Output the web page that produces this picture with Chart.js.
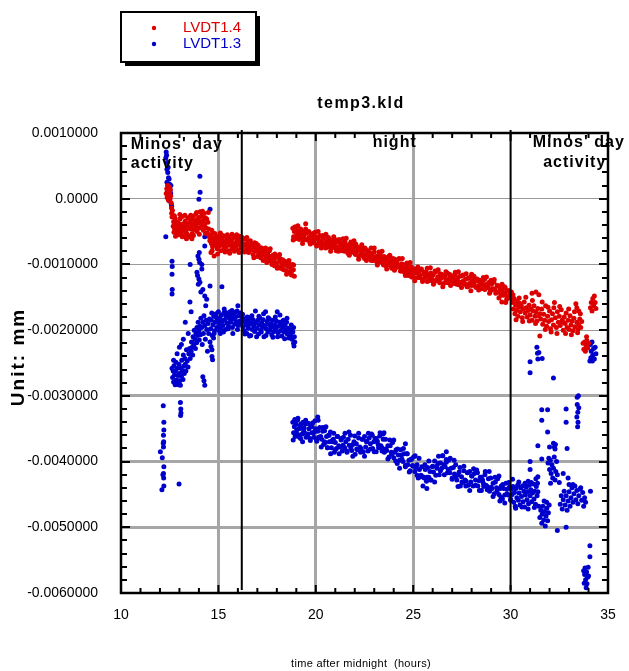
<!DOCTYPE html>
<html>
<head>
<meta charset="utf-8">
<title>temp3.kld</title>
<script src="https://cdn.jsdelivr.net/npm/chart.js@4.4.1/dist/chart.umd.min.js"></script>
<style>
    html, body { margin: 0; padding: 0; background: #fff; }
    #wrap { width: 629px; height: 671px; }
</style>
</head>
<body>
<div id="wrap"><canvas id="chart" width="629" height="671"></canvas></div>
<script>
// LVDT1.4 (red) readings, [hours, mm]
const red1 = [[12.32,.00008],[12.35,.00015],[12.37,.00002],[12.4,.0002],[12.41,.0001],[12.43,-.00002],[12.45,.00012],[12.46,.00005],[12.48,.00018],[12.5,.00009],[12.51,-.00001],[12.53,.00014],[12.55,.00004],[12.57,-.00006],[12.59,-.00014],[12.6,-.00022],[12.62,-.00028],[12.64,-.00018]];
const red2 = [[12.68,-.00042],[12.7,-.00035],[12.72,-.00051],[12.75,-.00046],[12.78,-.0003],[12.8,-.00057],[12.83,-.0004],[12.86,-.00049],[12.9,-.00036],[12.92,-.00044],[12.95,-.00055],[12.98,-.00038],[13.0,-.00047],[13.03,-.00031],[13.06,-.00052],[13.1,-.00041],[13.12,-.00045],[13.15,-.00027],[13.18,-.00049],[13.2,-.00038],[13.24,-.00056],[13.27,-.00043],[13.3,-.00034],[13.33,-.00047],[13.36,-.00052],[13.4,-.00039],[13.43,-.00029],[13.46,-.00044],[13.5,-.00058],[13.53,-.00036],[13.56,-.00046],[13.6,-.00032],[13.63,-.00041],[13.66,-.00053],[13.7,-.00027],[13.73,-.00038],[13.76,-.00047],[13.8,-.00033],[13.83,-.00024],[13.86,-.00042],[13.9,-.0005],[13.93,-.00031],[13.96,-.00037],[14.0,-.00045],[14.03,-.00028],[14.06,-.0002],[14.1,-.00035],[14.13,-.00042],[14.16,-.00026],[14.2,-.00033],[14.23,-.00048],[14.26,-.00022],[14.3,-.00038],[14.33,-.00029],[14.36,-.00044],[14.4,-.00031],[14.43,-.00052],[14.46,-.00036],[14.5,-.00046],[14.53,-.00058],[14.56,-.00064]];
const red2b = [[12.74,-.00026],[12.88,-.00053],[13.02,-.00024],[13.14,-.00058],[13.28,-.00025],[13.36,-.00061],[13.42,-.00055],[13.58,-.00025],[13.64,-.00061],[13.72,-.00056],[13.88,-.00021],[14.02,-.00054],[14.18,-.00019],[14.34,-.00053],[14.48,-.00021]];
const red3 = [[14.6,-.00055],[14.62,-.00082],[14.64,-.00068],[14.66,-.00048],[14.67,-.0006],[14.7,-.00073],[14.72,-.00052],[14.75,-.00066],[14.78,-.00087],[14.8,-.00061],[14.84,-.00071],[14.87,-.00057],[14.9,-.00069],[14.94,-.00076],[14.97,-.00063],[15.0,-.00058],[15.04,-.00072],[15.08,-.00066],[15.1,-.00052],[15.12,-.00079],[15.15,-.0006],[15.2,-.0007],[15.24,-.00064],[15.28,-.00075],[15.32,-.00057],[15.36,-.00068],[15.4,-.00073],[15.44,-.00062],[15.48,-.00079],[15.52,-.00066],[15.56,-.00059],[15.6,-.00071],[15.64,-.00065],[15.68,-.00077],[15.72,-.00061],[15.76,-.00069],[15.8,-.00074],[15.84,-.00058],[15.88,-.00067],[15.92,-.00072],[15.96,-.00062],[16.0,-.00078],[16.04,-.00066],[16.08,-.00057],[16.12,-.0007],[16.16,-.00075]];
const red3b = [[14.68,-.00079],[14.82,-.00053],[14.96,-.00084],[15.1,-.00068],[15.22,-.00056],[15.34,-.00081],[15.46,-.00055],[15.58,-.00083],[15.7,-.00054],[15.82,-.0008],[15.94,-.00055],[16.06,-.00082],[16.16,-.0006]];
const red4 = [[16.2,-.00063],[16.24,-.00074],[16.28,-.00068],[16.33,-.0008],[16.37,-.00061],[16.42,-.00071],[16.46,-.00077],[16.5,-.00066],[16.55,-.00082],[16.6,-.00072],[16.64,-.00064],[16.68,-.00078],[16.73,-.0007],[16.78,-.00085],[16.82,-.00074],[16.86,-.00067],[16.9,-.0008],[16.95,-.00076],[17.0,-.00088],[17.04,-.00071],[17.08,-.00083],[17.12,-.00078],[17.17,-.0009],[17.22,-.00075],[17.26,-.00086],[17.3,-.00081],[17.35,-.00093],[17.4,-.0008],[17.44,-.00087],[17.48,-.00097],[17.53,-.00084],[17.58,-.00091],[17.62,-.00079],[17.66,-.00095],[17.7,-.00088],[17.75,-.001],[17.8,-.00086],[17.84,-.00094],[17.88,-.00102],[17.93,-.0009],[17.98,-.00098],[18.02,-.00087],[18.07,-.00104],[18.12,-.00095],[18.16,-.00091],[18.2,-.00106],[18.25,-.00099],[18.3,-.00093],[18.35,-.00108],[18.4,-.00101],[18.45,-.00096],[18.5,-.0011],[18.55,-.00103],[18.6,-.00098],[18.65,-.00112],[18.7,-.00105],[18.75,-.00116],[18.8,-.001],[18.85,-.00108],[18.9,-.00118]];
const red4b = [[16.22,-.00059],[16.34,-.00081],[16.46,-.00059],[16.58,-.00077],[16.7,-.0007],[16.82,-.0009],[16.94,-.00068],[17.06,-.00086],[17.18,-.00075],[17.3,-.00094],[17.42,-.00075],[17.54,-.00094],[17.66,-.00076],[17.78,-.00094],[17.9,-.00084],[18.02,-.00106],[18.14,-.00085],[18.26,-.00106],[18.38,-.00095],[18.5,-.00115],[18.62,-.00094],[18.74,-.00112],[18.86,-.00101]];
const red5 = [[18.82,-.00045],[18.86,-.00058],[18.9,-.0005],[18.94,-.00061],[18.98,-.00043],[19.02,-.00056],[19.06,-.00049],[19.1,-.0006],[19.14,-.00052],[19.18,-.00058],[19.22,-.00046],[19.26,-.00056],[19.3,-.00049],[19.34,-.00063],[19.38,-.00053],[19.42,-.0006],[19.48,-.00038],[19.5,-.00053],[19.55,-.00062],[19.6,-.00051],[19.65,-.00059],[19.7,-.00067],[19.75,-.00055],[19.8,-.00063],[19.85,-.00053],[19.9,-.00067],[19.95,-.0006],
    [20.0,-.00058],[20.05,-.00072],[20.1,-.00061],[20.15,-.00067],[20.2,-.00056],[20.25,-.00065],[20.3,-.00071],[20.35,-.00061],[20.4,-.00068],[20.45,-.00059],[20.5,-.00075],[20.55,-.00065],[20.6,-.00071],[20.65,-.00059],[20.7,-.00069],[20.75,-.00063],[20.8,-.00075],[20.85,-.00068],[20.9,-.00062],[20.95,-.00072],
    [21.0,-.00067],[21.05,-.00079],[21.1,-.00065],[21.15,-.00073],[21.2,-.00062],[21.25,-.00076],[21.3,-.0007],[21.35,-.00079],[21.4,-.00068],[21.45,-.00074],[21.5,-.00066],[21.55,-.00078],[21.6,-.00072],[21.65,-.00083],[21.7,-.0007],[21.75,-.00076],[21.8,-.00082],[21.85,-.0007],[21.9,-.00079],[21.95,-.00074],
    [22.0,-.00083],[22.05,-.00069],[22.1,-.0008],[22.15,-.00074],[22.2,-.00087],[22.25,-.00078],[22.3,-.00085],[22.35,-.00073],[22.4,-.00084],[22.45,-.00078],[22.5,-.00091],[22.55,-.00077],[22.6,-.00084],[22.65,-.00089],[22.7,-.00079],[22.75,-.00089],[22.8,-.00084],[22.85,-.00094],[22.9,-.00083],[22.95,-.00089],
    [23.0,-.00081],[23.05,-.00094],[23.1,-.00088],[23.15,-.00098],[23.2,-.00087],[23.25,-.00093],[23.3,-.00085],[23.35,-.00096],[23.4,-.0009],[23.45,-.00099],[23.5,-.00088],[23.55,-.00094],[23.6,-.00102],[23.65,-.00091],[23.7,-.00098],[23.75,-.00088],[23.8,-.00101],[23.85,-.00095],[23.9,-.00106],[23.95,-.00094],
    [24.0,-.001],[24.05,-.00092],[24.1,-.00105],[24.15,-.00097],[24.2,-.00104],[24.25,-.00092],[24.3,-.00103],[24.35,-.0011],[24.4,-.00099],[24.45,-.00106],[24.5,-.001],[24.55,-.00112],[24.6,-.00105],[24.65,-.0011],[24.7,-.001],[24.75,-.00117],[24.8,-.00106],[24.85,-.00111],[24.9,-.00104],[24.95,-.00115],
    [25.0,-.0011],[25.06,-.0012],[25.12,-.00107],[25.18,-.00113],[25.24,-.0012],[25.3,-.0011],[25.36,-.00117],[25.42,-.00107],[25.48,-.00123],[25.54,-.00114],[25.6,-.0012],[25.66,-.00111],[25.72,-.00126],[25.78,-.00116],[25.84,-.0012],[25.9,-.00113],[25.96,-.00125],
    [26.02,-.00116],[26.08,-.00127],[26.14,-.00112],[26.2,-.00123],[26.26,-.00119],[26.32,-.00125],[26.38,-.00114],[26.44,-.00121],[26.5,-.00116],[26.56,-.00129],[26.62,-.00118],[26.68,-.00125],[26.74,-.00113],[26.8,-.00127],[26.86,-.00121],[26.92,-.00116],[26.98,-.00125],
    [27.04,-.00119],[27.1,-.00129],[27.16,-.00116],[27.22,-.00125],[27.28,-.00121],[27.34,-.00131],[27.4,-.00118],[27.46,-.00128],[27.52,-.00117],[27.58,-.00125],[27.64,-.0013],[27.7,-.00122],[27.76,-.00134],[27.82,-.00121],[27.88,-.00129],[27.94,-.00119],
    [28.0,-.00132],[28.0,-.00115],[28.06,-.00126],[28.12,-.00129],[28.18,-.00122],[28.24,-.00135],[28.3,-.00125],[28.36,-.00132],[28.42,-.00124],[28.48,-.00137],[28.54,-.00127],[28.6,-.00131],[28.66,-.00123],[28.72,-.00136],[28.78,-.0013],[28.84,-.00135],[28.9,-.00127],[28.96,-.00141],
    [29.02,-.0013],[29.08,-.00137],[29.14,-.00127],[29.2,-.00137],[29.26,-.00142],[29.32,-.00133],[29.38,-.00142],[29.44,-.00133],[29.5,-.00147],[29.55,-.00157],[29.56,-.00138],[29.62,-.00143],[29.68,-.00134],[29.74,-.00146],[29.75,-.00158],[29.8,-.0014],[29.86,-.00151],[29.92,-.0014],[29.98,-.00149],[30.04,-.00142],[30.08,-.00153]];
const red5b = [[18.84,-.00063],[18.92,-.00043],[19.0,-.00057],[19.08,-.00041],[19.16,-.00062],[19.24,-.00049],[19.32,-.00068],[19.4,-.00053],[19.48,-.00046],[19.56,-.00063],[19.64,-.0005],[19.72,-.00069],[19.8,-.00056],[19.88,-.00062],[19.96,-.00051],
    [20.04,-.0007],[20.12,-.0005],[20.2,-.00067],[20.28,-.00075],[20.36,-.00056],[20.44,-.00069],[20.52,-.00054],[20.6,-.00074],[20.68,-.00062],[20.76,-.0008],[20.84,-.00066],[20.92,-.00058],
    [21.0,-.00075],[21.08,-.00063],[21.16,-.0008],[21.24,-.00067],[21.32,-.00072],[21.4,-.00061],[21.48,-.0008],[21.56,-.0006],[21.64,-.00077],[21.72,-.00086],[21.8,-.00066],[21.88,-.0008],[21.96,-.00064],
    [22.04,-.00085],[22.12,-.00073],[22.2,-.00092],[22.28,-.00078],[22.36,-.0007],[22.44,-.00088],[22.52,-.00075],[22.6,-.00094],[22.68,-.00081],[22.76,-.00087],[22.84,-.00075],[22.92,-.00094],
    [23.0,-.00075],[23.08,-.00092],[23.16,-.00101],[23.24,-.00081],[23.32,-.00095],[23.4,-.0008],[23.48,-.00101],[23.56,-.00089],[23.64,-.00107],[23.72,-.00093],[23.8,-.00086],[23.88,-.00103],[23.96,-.00091],
    [24.04,-.00109],[24.12,-.00096],[24.2,-.00101],[24.28,-.00091],[24.36,-.0011],[24.44,-.00091],[24.52,-.00108],[24.6,-.00117],[24.68,-.00098],[24.76,-.00112],[24.84,-.00097],[24.92,-.00119],
    [25.0,-.00107],[25.08,-.00125],[25.16,-.00111],[25.24,-.00104],[25.32,-.0012],[25.4,-.00108],[25.48,-.00126],[25.56,-.00112],[25.64,-.00118],[25.72,-.00106],[25.8,-.00125],[25.88,-.00105],[25.96,-.00122],
    [26.04,-.0013],[26.12,-.0011],[26.2,-.00124],[26.28,-.00108],[26.36,-.00128],[26.44,-.00115],[26.52,-.00134],[26.6,-.00119],[26.68,-.00111],[26.76,-.00128],[26.84,-.00115],[26.92,-.00132],
    [27.0,-.00118],[27.08,-.00123],[27.16,-.00112],[27.24,-.0013],[27.32,-.00111],[27.4,-.00127],[27.48,-.00135],[27.56,-.00116],[27.64,-.00129],[27.72,-.00114],[27.8,-.00134],[27.88,-.00121],[27.96,-.0014],
    [28.04,-.00125],[28.12,-.00118],[28.2,-.00134],[28.28,-.00122],[28.36,-.00139],[28.44,-.00126],[28.52,-.00131],[28.6,-.0012],[28.68,-.00138],[28.76,-.00119],[28.84,-.00135],[28.92,-.00144],
    [29.0,-.00124],[29.08,-.00138],[29.16,-.00123],[29.24,-.00144],[29.32,-.00132],[29.4,-.00151],[29.48,-.00137],[29.56,-.0013],[29.64,-.00147],[29.72,-.00135],[29.8,-.00153],[29.88,-.0014],[29.96,-.00146]];
const red6 = [[30.1,-.00158],[30.14,-.00168],[30.18,-.00152],[30.22,-.00175],[30.26,-.00162],[30.3,-.0017],[30.34,-.00156],[30.38,-.00179],[30.42,-.00165],[30.46,-.00159],[30.5,-.00172],[30.55,-.00163],[30.6,-.00181],[30.65,-.00168],[30.7,-.00157],[30.75,-.00174],[30.8,-.00166],[30.85,-.0018],[30.9,-.0017],[30.95,-.00162],[31.0,-.00177],[31.05,-.00168],[31.1,-.00185],[31.1,-.00144],[31.15,-.00171],[31.2,-.00163],[31.25,-.00179],[31.3,-.00142],[31.3,-.00172],[31.35,-.00186],[31.4,-.00167],[31.45,-.00146],[31.45,-.00178],[31.5,-.00209],[31.5,-.00175],
    [31.55,-.00183],[31.6,-.00168],[31.65,-.00191],[31.7,-.00176],[31.75,-.00185],[31.8,-.00163],[31.85,-.00194],[31.9,-.00179],[31.95,-.00187],[32.0,-.00171],[32.05,-.00198],[32.1,-.00184],[32.15,-.00175],[32.2,-.00192],[32.25,-.00158],[32.3,-.00181],[32.35,-.00196],[32.4,-.00172],[32.45,-.00188],[32.5,-.00179],[32.55,-.00193],[32.6,-.00169],[32.65,-.00185],[32.7,-.002],[32.75,-.0018],[32.8,-.0019],[32.85,-.00174],[32.9,-.00196],[32.95,-.00185],[33.0,-.00199],[33.05,-.00178],[33.1,-.00192],[33.15,-.00186],[33.2,-.00201],[33.25,-.00182],[33.3,-.00195],[33.35,-.0016],[33.4,-.00188],[33.4,-.00166],[33.45,-.00199],[33.5,-.00171],[33.5,-.00192],[33.55,-.00183],[33.6,-.00196],[33.65,-.00187],
    [33.72,-.0022],[33.76,-.00229],[33.8,-.00218],[33.84,-.00232],[33.88,-.00224],[33.9,-.0021],[33.92,-.00216],[33.96,-.00227],[34.0,-.0022],
    [34.1,-.00166],[34.14,-.00158],[34.18,-.00171],[34.22,-.00152],[34.26,-.00163],[34.3,-.00148],[34.34,-.00158],[34.38,-.00167]];
const red6b = [[30.12,-.00146],[30.28,-.00184],[30.44,-.00151],[30.62,-.00187],[30.78,-.0015],[30.96,-.00186],[31.12,-.00155],[31.28,-.0019],[31.62,-.00157],[31.78,-.00199],[31.92,-.00165],[32.08,-.00203],[32.22,-.00166],[32.38,-.00205],[32.52,-.00164],[32.68,-.00188],[32.82,-.00205],[32.98,-.00168],[33.12,-.00207],[33.28,-.00172],[33.44,-.00204],[33.58,-.00175]];

// LVDT1.3 (blue) readings
const blue1 = [[12.3,.00062],[12.32,.00071],[12.34,.00066],[12.36,.00045],[12.38,.00055],[12.4,.0004],[12.42,.00048],[12.44,.00032],[12.36,.00025],[12.4,.0002],[12.45,.00015],[12.38,.0001],[12.43,.00005],[12.47,.0003],[12.5,.00022],[12.52,.00012],[12.48,-.00003],[12.55,.00008],[12.58,-.00008],[12.56,.0002],[12.6,-.00012],[12.3,-.00058],
    [12.62,-.00095],[12.63,-.00103],[12.62,-.00115],[12.63,-.00138],[12.62,-.00145],
    [12.17,-.00315],[12.2,-.0034],[12.2,-.00352],[12.18,-.0036],[12.19,-.0037],[12.17,-.00372],[12.18,-.00378],[12.02,-.00385],[12.12,-.00394],[12.2,-.00408],[12.18,-.00418],[12.15,-.0042],[12.19,-.00425],[12.2,-.00437],[12.1,-.00443],
    [12.98,-.00434],[13.05,-.0031],[13.07,-.0032],[13.06,-.0033],[13.08,-.00326]];
const blue2 = [[12.62,-.00258],[12.65,-.00272],[12.68,-.00262],[12.7,-.00279],[12.7,-.00246],[12.72,-.00254],[12.75,-.00268],[12.78,-.00283],[12.8,-.00262],[12.82,-.00249],[12.85,-.00276],[12.88,-.00277],[12.88,-.00236],[12.9,-.00258],[12.92,-.00269],[12.95,-.00283],[12.98,-.00252],[13.0,-.00266],[13.0,-.00226],[13.02,-.00277],[13.05,-.00284],[13.08,-.00258],[13.1,-.0027],[13.1,-.00222],[13.12,-.00246],[13.15,-.00262],[13.18,-.00275],[13.2,-.00238],[13.2,-.00214],[13.22,-.00255],[13.25,-.00266],[13.28,-.00243],[13.3,-.00252],[13.3,-.00188],[13.33,-.00262],[13.36,-.0023],[13.4,-.00247],[13.44,-.00256],[13.45,-.00205],[13.48,-.00236],[13.52,-.00228]];
const blue3 = [[13.55,-.00243],[13.6,-.00232],[13.62,-.00218],[13.65,-.00226],[13.68,-.00238],[13.7,-.0021],[13.74,-.00222],[13.76,-.002],[13.8,-.00214],[13.82,-.00228],[13.85,-.00205],[13.88,-.00219],[13.9,-.00196],[13.93,-.00208],[13.96,-.00188],[14.0,-.00201],[14.02,-.00215],[14.05,-.00194],[14.08,-.00207],[14.1,-.00182],[14.14,-.00196],[14.17,-.00222],[14.2,-.00188],[14.23,-.00205],[14.26,-.00178],[14.3,-.00193],[14.33,-.00214],[14.36,-.00185],[14.4,-.00199],[14.44,-.00232],[14.47,-.0019],[14.5,-.00205],[14.54,-.00183],[14.57,-.00218],
    [13.54,-.00157],[13.6,-.00172],[13.95,-.00087],[14.0,-.00092],[14.02,-.00082],[14.04,-.00097],[13.9,-.00112],[13.93,-.00117],[14.0,-.00122],[14.05,-.00127],[13.97,-.0013],[14.2,-.00138],[14.3,-.00148],[14.4,-.00153],[14.35,-.00163],[14.57,-.00133],[14.1,-.00142],[14.15,-.00107],
    [14.05,.00034],[14.06,.0001],[14.0,-.00001],[14.57,-.00016],[14.3,-.00058],[14.3,-.00072],[13.55,-.001],[14.15,-.001],
    [14.26,-.00277],[14.3,-.00284],[14.2,-.00271],[14.67,-.0024],[14.67,-.0023],[14.7,-.00245],[14.62,-.00225]];
const blue4 = [[14.6,-.00198],[14.64,-.00185],[14.68,-.00208],[14.72,-.00192],[14.75,-.00212],[14.76,-.00179],[14.8,-.00201],[14.84,-.00188],[14.88,-.00175],[14.92,-.00196],[14.96,-.00184],[15.0,-.00172],[15.04,-.00191],[15.08,-.00181],[15.1,-.00205],[15.12,-.00197],[15.16,-.00177],[15.18,-.00134],[15.2,-.00187],[15.24,-.00193],[15.28,-.00174],[15.32,-.00184],[15.36,-.00199],[15.4,-.00179],[15.44,-.00189],[15.48,-.00176],[15.52,-.00194],[15.56,-.00182],[15.6,-.00172],[15.64,-.00188],[15.68,-.00178],[15.72,-.00196],[15.76,-.00183],[15.8,-.00175],[15.84,-.00191],[15.88,-.0018],[15.92,-.00187],[15.96,-.00171],[16.0,-.00163],[16.02,-.00193],[16.06,-.00178],[16.1,-.00186],[16.14,-.00174],[16.18,-.00189]];
const blue4b = [[14.66,-.00174],[14.78,-.00205],[14.9,-.00181],[15.02,-.002],[15.14,-.00185],[15.26,-.00203],[15.3,-.00168],[15.38,-.00173],[15.5,-.00198],[15.62,-.00184],[15.7,-.0017],[15.74,-.00205],[15.86,-.00173],[15.98,-.00199],[16.1,-.00176]];
const blue5 = [[16.22,-.0018],[16.26,-.00195],[16.3,-.00187],[16.34,-.00201],[16.38,-.00183],[16.42,-.00192],[16.46,-.00205],[16.5,-.00186],[16.54,-.00197],[16.58,-.00181],[16.62,-.00191],[16.66,-.00208],[16.7,-.00188],[16.74,-.00199],[16.78,-.00184],[16.82,-.00194],[16.86,-.00202],[16.9,-.00171],[16.94,-.00189],[16.98,-.00197],[17.02,-.00185],[17.06,-.00206],[17.1,-.00192],[17.14,-.00182],[17.18,-.002],[17.22,-.00189],[17.26,-.00196],[17.3,-.00184],[17.34,-.0021],[17.38,-.00193],[17.42,-.00172],[17.46,-.00198],[17.5,-.00187],[17.54,-.00203],[17.58,-.00191],[17.62,-.00183],[17.66,-.002],[17.7,-.0019],[17.74,-.00207],[17.78,-.00195],[17.82,-.00185],[17.86,-.00202],[17.9,-.00192],[17.94,-.00198],[17.98,-.00186],[18.02,-.00172],[18.06,-.00204],[18.1,-.00194],[18.14,-.00188],[18.18,-.00201],[18.22,-.00191],[18.26,-.00209],[18.3,-.00196],[18.34,-.00185],[18.38,-.00203],[18.42,-.00193],[18.46,-.002],[18.5,-.00188],[18.54,-.00206],[18.58,-.00197],[18.62,-.00212],[18.66,-.00199],[18.7,-.00207],[18.74,-.00192],[18.78,-.00214],[18.82,-.00203],[18.86,-.0022],[18.9,-.0021],[18.92,-.00218]];
const blue5b = [[16.24,-.00176],[16.36,-.00206],[16.48,-.0018],[16.6,-.00209],[16.72,-.00178],[16.84,-.00188],[16.96,-.0021],[17.08,-.00179],[17.2,-.00203],[17.32,-.00175],[17.44,-.00208],[17.56,-.00181],[17.68,-.00195],[17.8,-.00211],[17.92,-.0018],[18.04,-.0021],[18.16,-.00177],[18.28,-.00187],[18.4,-.00213],[18.52,-.00182],[18.64,-.00205],[18.76,-.002],[18.86,-.00196],[18.88,-.00224]];
const blue6 = [[18.82,-.0034],[18.86,-.00356],[18.9,-.00347],[18.94,-.00362],[18.98,-.00343],[19.02,-.00352],[19.06,-.00337],[19.1,-.00359],[19.14,-.0035],[19.18,-.00346],[19.22,-.00365],[19.26,-.00349],[19.3,-.00358],[19.34,-.0034],[19.38,-.00354],[19.42,-.00356],[19.46,-.00343],[19.5,-.00363],[19.55,-.00342],[19.6,-.00358],[19.65,-.0035],[19.7,-.00365],[19.75,-.00346],[19.8,-.00356],[19.85,-.00341],[19.9,-.00363],[19.95,-.00354],
    [20.0,-.0035],[20.05,-.00369],[20.1,-.00354],[20.1,-.00332],[20.15,-.00363],[20.2,-.00348],[20.25,-.00362],[20.3,-.00366],[20.35,-.00354],[20.4,-.00374],[20.45,-.00353],[20.5,-.00371],[20.55,-.00362],[20.6,-.00379],[20.65,-.0036],[20.7,-.0037],[20.75,-.00355],[20.8,-.00379],[20.85,-.0037],[20.9,-.00366],[20.95,-.00386],
    [21.0,-.00371],[21.06,-.0038],[21.12,-.00362],[21.18,-.00376],[21.24,-.00378],[21.3,-.00365],[21.36,-.00384],[21.42,-.00363],[21.48,-.00379],[21.54,-.0037],[21.6,-.00386],[21.66,-.00366],[21.72,-.00375],[21.78,-.0036],[21.84,-.00383],[21.9,-.00374],[21.96,-.0037],
    [22.02,-.00389],[22.08,-.00373],[22.14,-.00382],[22.2,-.00364],[22.26,-.00378],[22.32,-.0038],[22.38,-.00366],[22.44,-.00385],[22.5,-.00362],[22.56,-.00378],[22.62,-.00369],[22.68,-.00384],[22.74,-.00364],[22.8,-.00373],[22.86,-.00358],[22.92,-.0038],[22.98,-.0037],
    [23.04,-.00365],[23.1,-.00385],[23.16,-.00369],[23.22,-.00379],[23.28,-.00361],[23.34,-.00376],[23.4,-.00379],[23.45,-.00358],[23.46,-.00366],[23.52,-.00386],[23.58,-.00366],[23.64,-.00383],[23.7,-.00376],[23.76,-.00393],[23.82,-.00376],[23.88,-.00386],[23.94,-.00371],
    [24.0,-.00394],[24.06,-.00386],[24.12,-.00382],[24.18,-.00403],[24.24,-.0039],[24.3,-.00398],[24.36,-.00382],[24.42,-.00396],[24.48,-.004],[24.54,-.00388],[24.6,-.00408],[24.6,-.00373],[24.66,-.00388],[24.72,-.00405],[24.78,-.00398],[24.84,-.00414],[24.9,-.00396],[24.96,-.00406],
    [25.02,-.00393],[25.08,-.00415],[25.14,-.00409],[25.2,-.00405],[25.26,-.00425],[25.32,-.00412],[25.38,-.00423],[25.44,-.00408],[25.5,-.00423],[25.56,-.00425],[25.62,-.00412],[25.68,-.0043],[25.7,-.00441],[25.74,-.00409],[25.8,-.00424],[25.86,-.00415],[25.92,-.00428],[25.98,-.00408],
    [26.04,-.00416],[26.1,-.00399],[26.16,-.00421],[26.22,-.0041],[26.28,-.00403],[26.34,-.0042],[26.4,-.00402],[26.46,-.0041],[26.52,-.00391],[26.58,-.00405],[26.64,-.00408],[26.7,-.00397],[26.7,-.00385],[26.76,-.00417],[26.82,-.00398],[26.88,-.00417],[26.94,-.0041],
    [27.0,-.00427],[27.06,-.00409],[27.12,-.00419],[27.18,-.00405],[27.24,-.00428],[27.3,-.0042],[27.36,-.00416],[27.42,-.00437],[27.48,-.00423],[27.54,-.00432],[27.6,-.00414],[27.66,-.00428],[27.72,-.0043],[27.78,-.00417],[27.84,-.00436],[27.9,-.00415],[27.96,-.00431],
    [28.02,-.00422],[28.08,-.00437],[28.14,-.00418],[28.2,-.00428],[28.26,-.00413],[28.32,-.00437],[28.38,-.00429],[28.44,-.00424],[28.5,-.00444],[28.56,-.00428],[28.62,-.00438],[28.68,-.0042],[28.74,-.00436],[28.8,-.00438],[28.86,-.00426],[28.92,-.00445],[28.98,-.00425],
    [29.04,-.00441],[29.1,-.00433],[29.16,-.00449],[29.22,-.00431],[29.28,-.0044],[29.34,-.00426],[29.4,-.0045],[29.45,-.0046],[29.46,-.00441],[29.52,-.00437],[29.58,-.00457],[29.64,-.00441],[29.7,-.00451],[29.76,-.00433],[29.82,-.00449],[29.88,-.00451],[29.94,-.00439],[30.0,-.00459],[30.04,-.00442]];
const blue6b = [[18.84,-.00367],[18.92,-.00336],[19.0,-.00357],[19.08,-.00334],[19.16,-.00363],[19.24,-.00343],[19.32,-.0037],[19.4,-.00349],[19.48,-.00337],[19.56,-.00361],[19.64,-.00342],[19.72,-.00368],[19.8,-.00347],[19.88,-.00356],[19.96,-.00338],
    [20.04,-.00366],[20.12,-.00337],[20.2,-.00363],[20.28,-.00378],[20.36,-.00348],[20.44,-.0037],[20.52,-.00347],[20.6,-.00379],[20.68,-.0036],[20.76,-.00388],[20.84,-.00368],[20.92,-.00357],
    [21.0,-.00382],[21.1,-.00362],[21.2,-.00388],[21.3,-.00367],[21.4,-.00375],[21.5,-.00357],[21.6,-.00384],[21.7,-.00355],[21.8,-.00379],[21.9,-.00392],
    [22.0,-.00361],[22.1,-.00381],[22.2,-.00357],[22.3,-.00386],[22.4,-.00366],[22.5,-.00392],[22.6,-.0037],[22.7,-.00357],[22.8,-.00381],[22.9,-.0036],
    [23.0,-.00385],[23.1,-.00365],[23.2,-.00374],[23.3,-.00356],[23.4,-.00384],[23.5,-.00356],[23.6,-.00381],[23.7,-.00396],[23.8,-.00367],[23.9,-.00389],
    [24.0,-.00367],[24.1,-.00399],[24.2,-.00381],[24.3,-.0041],[24.4,-.0039],[24.5,-.0038],[24.6,-.00406],[24.7,-.00388],[24.8,-.00416],[24.9,-.00397],
    [25.0,-.00407],[25.1,-.00391],[25.2,-.00421],[25.3,-.00395],[25.4,-.00421],[25.5,-.00437],[25.6,-.00405],[25.7,-.00424],[25.8,-.00399],[25.9,-.00428],
    [26.0,-.00407],[26.1,-.00431],[26.2,-.00407],[26.3,-.00392],[26.4,-.00414],[26.5,-.00391],[26.6,-.0042],[26.7,-.00401],[26.8,-.00412],[26.9,-.00395],
    [27.0,-.00425],[27.1,-.00398],[27.2,-.00423],[27.3,-.00438],[27.4,-.00409],[27.5,-.00431],[27.6,-.00407],[27.7,-.00437],[27.8,-.00417],[27.9,-.00444],
    [28.0,-.00422],[28.1,-.00411],[28.2,-.00436],[28.3,-.00417],[28.4,-.00444],[28.5,-.00424],[28.6,-.00433],[28.7,-.00415],[28.8,-.00443],[28.9,-.00415],
    [29.0,-.00439],[29.1,-.00453],[29.2,-.00424],[29.3,-.00445],[29.4,-.00422],[29.5,-.00454],[29.6,-.00435],[29.7,-.00463],[29.8,-.00442],[29.9,-.00432],[30.0,-.00457]];
const blue7 = [[30.08,-.0045],[30.12,-.00438],[30.16,-.00462],[30.2,-.00447],[30.24,-.00468],[30.28,-.00441],[30.32,-.00455],[30.36,-.00436],[30.4,-.00459],[30.44,-.00448],[30.48,-.00466],[30.52,-.0044],[30.56,-.00453],[30.6,-.00437],[30.64,-.00461],[30.68,-.00445],[30.72,-.00469],[30.76,-.00451],[30.8,-.00439],[30.84,-.00458],[30.88,-.00446],[30.9,-.0043],[30.92,-.00464],[30.96,-.00436],[31.0,-.00452],[31.0,-.00412],[31.0,-.004],[31.04,-.00443],[31.08,-.00461],[31.12,-.00448],[31.16,-.00434],[31.2,-.00457],[31.24,-.00445],[31.28,-.00465],[31.3,-.00426],[31.32,-.00438],[31.36,-.00452],[31.4,-.00446],
    [30.1,-.00427],[30.26,-.00471],[30.42,-.00431],[30.58,-.00469],[30.74,-.00433],[30.9,-.00472],[31.06,-.00432],[31.22,-.0047],[31.38,-.00433],
    [31.45,-.00468],[31.5,-.00485],[31.55,-.00474],[31.6,-.00494],[31.62,-.0048],[31.66,-.00468],[31.7,-.00489],[31.72,-.0046],[31.74,-.00476],[31.78,-.00498],[31.82,-.00483],[31.85,-.00462],[31.86,-.00471],[31.9,-.0049],[31.94,-.00478],[31.98,-.00466],
    [31.4,-.00376],[31.6,-.00396],[31.4,-.00423],[31.0,-.00248],[31.0,-.00265],[31.35,-.00226],[31.38,-.00235],[31.4,-.00244],[31.45,-.00234],[31.62,-.00243],[31.6,-.00321],[31.9,-.00321],[31.6,-.00337],[31.9,-.00355],[32.0,-.00378],[32.2,-.00273],
    [31.92,-.00402],[31.96,-.00395],[32.0,-.00412],[32.04,-.00398],[32.05,-.00433],[32.08,-.00418],[32.12,-.00405],[32.16,-.00425],[32.2,-.0041],[32.2,-.00372],[32.24,-.00393],[32.25,-.00378],[32.28,-.00428],[32.28,-.00381],[32.3,-.00374],[32.32,-.00415],[32.36,-.004],[32.4,-.0042],[32.5,-.00432],
    [32.7,-.00418],[32.85,-.0032],[32.85,-.0034],[32.9,-.0038],[32.95,-.00425],
    [32.55,-.00465],[32.6,-.00452],[32.65,-.00472],[32.7,-.00458],[32.75,-.00445],[32.8,-.00466],[32.85,-.00452],[32.9,-.00474],[32.95,-.0046],[33.0,-.00446],[33.0,-.00435],[33.05,-.00468],[33.1,-.00455],[33.15,-.0044],[33.2,-.00462],[33.2,-.00435],[33.25,-.00449],[33.3,-.00437],[33.35,-.00458],[33.4,-.00444],[33.45,-.00464],[33.5,-.00452],[33.55,-.00442],[33.6,-.0044],[33.65,-.00459],[33.7,-.00447],[33.75,-.00468],[33.8,-.00455],[33.85,-.00462],[32.4,-.00505],[32.85,-.005],[34.1,-.00445],
    [33.42,-.00302],[33.48,-.003],[33.42,-.00313],[33.45,-.00325],[33.4,-.00332],[33.46,-.0034],[33.44,-.00347],[33.5,-.00318],
    [34.07,-.00528],[34.07,-.00545],[33.75,-.00566],[33.8,-.00572],[33.82,-.00562],[33.85,-.0058],[33.9,-.00568],[33.95,-.00576],[33.78,-.00585],[33.88,-.00592],[33.92,-.00586],[33.98,-.00561],[34.0,-.00574],
    [34.1,-.00222],[34.14,-.00232],[34.18,-.00218],[34.22,-.00238],[34.26,-.00228],[34.3,-.00244],[34.34,-.00226],[34.38,-.00236],[34.2,-.00247],[34.12,-.00242],[34.07,-.00247]];

// axes
const xTickValues = [10, 15, 20, 25, 30, 35];
const xTickLabels = ["10", "15", "20", "25", "30", "35"];
const yTickValues = [-0.006, -0.005, -0.004, -0.003, -0.002, -0.001, 0, 0.001];
const yTickLabels = ["-0.0060000", "-0.0050000", "-0.0040000", "-0.0030000", "-0.0020000", "-0.0010000", "0.0000", "0.0010000"];
const markerHours = [16.2, 30.0];

const RED = "#dd0000";
const BLUE = "#0000cc";
const FONT = "'Liberation Sans', Arial, Helvetica, sans-serif";

const toPts = arr => arr.map(([x, y]) => ({ x, y }));

// frame, inward ticks, black markers and all the free text
const decor = {
    id: "decor",
    afterDraw(chart) {
        const { ctx, chartArea: a, scales: { x, y } } = chart;
        ctx.save();

        ctx.strokeStyle = "#000";
        ctx.lineWidth = 2;
        ctx.beginPath();
        for (let h = 10; h <= 35; h++) {
            const px = x.getPixelForValue(h);
            const len = h % 5 === 0 ? 8 : 5;
            ctx.moveTo(px, a.bottom); ctx.lineTo(px, a.bottom - len);
            ctx.moveTo(px, a.top); ctx.lineTo(px, a.top + len);
        }
        for (let k = -30; k <= 5; k++) {
            const py = Math.round(y.getPixelForValue(k * 0.0002));
            const len = k % 5 === 0 ? 9 : 6;
            ctx.moveTo(a.left, py); ctx.lineTo(a.left + len, py);
            ctx.moveTo(a.right, py); ctx.lineTo(a.right - len, py);
        }
        ctx.stroke();

        // markers
        ctx.beginPath();
        markerHours.forEach(h => {
            const px = x.getPixelForValue(h);
            ctx.moveTo(px, a.top - 3);
            ctx.lineTo(px, a.bottom - 3);
        });
        ctx.stroke();

        ctx.lineWidth = 2.5;
        ctx.strokeRect(a.left, a.top, a.right - a.left, a.bottom - a.top);

        // notes in the plot
        ctx.fillStyle = "#000";
        ctx.font = "bold 16px " + FONT;
        ctx.letterSpacing = "1px";
        ctx.textBaseline = "middle";
        ctx.textAlign = "left";
        const lx = x.getPixelForValue(10.5);
        ctx.fillText("Minos' day", lx, a.top + 12);
        ctx.fillText("activity", lx, a.top + 31);
        ctx.textAlign = "center";
        ctx.fillText("night", x.getPixelForValue(24.05), a.top + 10);
        const rx = x.getPixelForValue(33.5);
        ctx.fillText("Minos' day", rx, a.top + 10);
        ctx.fillText("activity", rx - 4, a.top + 30);

        // title
        ctx.font = "bold 16px " + FONT;
        ctx.letterSpacing = "1.4px";
        ctx.fillText("temp3.kld", 361, 104);

        // x title
        ctx.font = "11px " + FONT;
        ctx.letterSpacing = "0.3px";
        ctx.fillText("time after midnight  (hours)", 361, 664);

        // y title
        ctx.save();
        ctx.translate(19, 357);
        ctx.rotate(-Math.PI / 2);
        ctx.font = "bold 19px " + FONT;
        ctx.letterSpacing = "2px";
        ctx.fillText("Unit: mm", 0, 0);
        ctx.restore();

        // legend box with shadow
        ctx.letterSpacing = "0px";
        ctx.fillStyle = "#000";
        ctx.fillRect(125, 16, 135, 50);
        ctx.fillStyle = "#fff";
        ctx.fillRect(121, 12, 135, 50);
        ctx.lineWidth = 2;
        ctx.strokeRect(121, 12, 135, 50);
        ctx.font = "15px " + FONT;
        ctx.textAlign = "left";
        [["LVDT1.4", RED, 28], ["LVDT1.3", BLUE, 44]].forEach(([name, col, ly]) => {
            ctx.fillStyle = col;
            ctx.beginPath();
            ctx.arc(154, ly, 2.2, 0, Math.PI * 2);
            ctx.fill();
            ctx.fillText(name, 183, ly);
        });

        ctx.restore();
    }
};

Chart.defaults.font.family = FONT;

new Chart(document.getElementById("chart"), {
    type: "scatter",
    data: {
        datasets: [
            {
                label: "LVDT1.4",
                data: toPts([...red1, ...red2, ...red2b, ...red3, ...red3b, ...red4, ...red4b, ...red5, ...red5b, ...red6, ...red6b]),
                backgroundColor: RED,
                borderColor: RED,
                borderWidth: 0,
                pointRadius: 2.5
            },
            {
                label: "LVDT1.3",
                data: toPts([...blue1, ...blue2, ...blue3, ...blue4, ...blue4b, ...blue5, ...blue5b, ...blue6, ...blue6b, ...blue7]),
                backgroundColor: BLUE,
                borderColor: BLUE,
                borderWidth: 0,
                pointRadius: 2.5
            }
        ]
    },
    options: {
        responsive: false,
        animation: false,
        devicePixelRatio: 1,
        layout: { padding: { left: 0, top: 133, right: 21, bottom: 0 } },
        plugins: {
            legend: { display: false },
            tooltip: { enabled: false },
            title: { display: false }
        },
        scales: {
            x: {
                type: "linear",
                min: 10,
                max: 35,
                z: 1,
                afterBuildTicks: s => { s.ticks = xTickValues.map(value => ({ value })); },
                afterFit: s => { s.height = 78; s.paddingLeft = 0; s.paddingRight = 0; },
                border: { display: false },
                grid: {
                    drawTicks: false,
                    color: c => (c.tick && (c.tick.value === 10 || c.tick.value === 35)) ? "rgba(0,0,0,0)" : "#a6a6a6",
                    lineWidth: c => (c.tick && [15, 20, 25].includes(c.tick.value)) ? 3 : 1
                },
                ticks: {
                    padding: 14,
                    color: "#000",
                    font: { size: 14 },
                    maxRotation: 0,
                    autoSkip: false,
                    callback: (v, i) => xTickLabels[i]
                }
            },
            y: {
                type: "linear",
                min: -0.006,
                max: 0.001,
                z: 1,
                afterBuildTicks: s => { s.ticks = yTickValues.map(value => ({ value })); },
                afterFit: s => { s.width = 121; s.paddingTop = 0; s.paddingBottom = 0; },
                border: { display: false },
                grid: {
                    drawTicks: false,
                    color: c => (c.tick && (c.index === 0 || c.index === 7)) ? "rgba(0,0,0,0)" : (c.index <= 3 ? "#a6a6a6" : "#9a9a9a"),
                    lineWidth: c => (c.index >= 1 && c.index <= 3) ? 3 : 1
                },
                ticks: {
                    padding: 23,
                    color: "#000",
                    font: { size: 14 },
                    autoSkip: false,
                    callback: (v, i) => yTickLabels[i]
                }
            }
        }
    },
    plugins: [decor]
});
</script>
</body>
</html>
